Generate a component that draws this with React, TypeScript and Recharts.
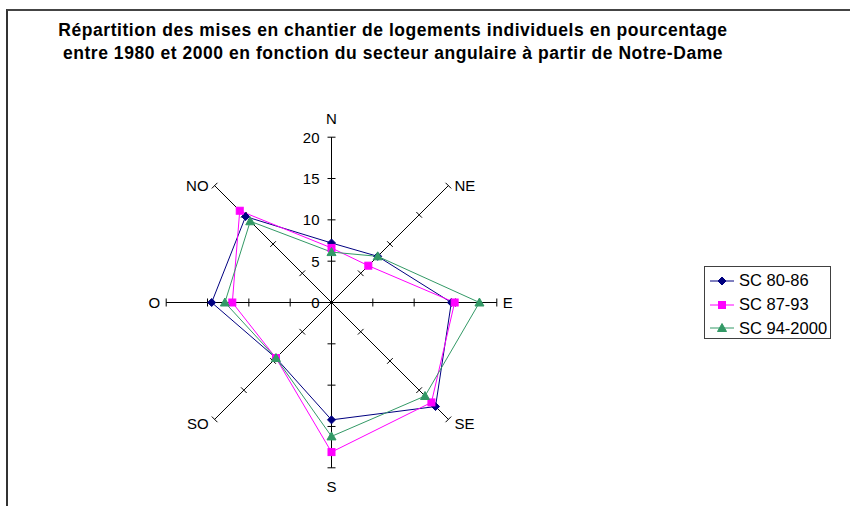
import React from "react";
import {
  RadarChart,
  Radar,
  PolarAngleAxis,
  PolarRadiusAxis,
  Legend,
} from "recharts";

// values (percentages per angular sector)
const SECTORS = ["N", "NE", "E", "SE", "S", "SO", "O", "NO"];
const SC_80_86 = [7.2, 7.9, 14.5, 17.8, 14.2, 9.5, 14.5, 14.7];
const SC_87_93 = [6.6, 6.3, 14.9, 17.1, 18.1, 9.5, 12.0, 15.7];
const SC_94_2000 = [6.1, 7.9, 17.9, 16.0, 16.2, 9.5, 12.9, 13.9];
const RADIUS_TICKS = [0, 5, 10, 15, 20];
const AXIS_ANGLES = [90, 45, 0, -45, -90, -135, 180, 135];
const TITLE_LINES = [
  "Répartition des mises en chantier de logements individuels en pourcentage",
  "entre 1980 et 2000 en fonction du secteur angulaire à partir de Notre-Dame",
];

const SERIES = [
  { key: "a", name: "SC 80-86", values: SC_80_86, color: "#000080", marker: "diamond" },
  { key: "b", name: "SC 87-93", values: SC_87_93, color: "#FF00FF", marker: "square" },
  { key: "c", name: "SC 94-2000", values: SC_94_2000, color: "#339966", marker: "triangle" },
];

const data = SECTORS.map((sector, i) => {
  const row: any = { sector };
  SERIES.forEach(s => (row[s.key] = s.values[i]));
  return row;
});

const CX = 331.5;
const CY = 302.5;
const R = 165.3;
const FONT = "Arial, 'Liberation Sans', sans-serif";

function Marker({ type, x, y, color }: { type: string; x: number; y: number; color: string }) {
  if (type === "diamond") {
    return <polygon points={`${x},${y - 4} ${x + 4},${y} ${x},${y + 4} ${x - 4},${y}`} fill={color} stroke={color} />;
  }
  if (type === "square") {
    return <rect x={x - 3.5} y={y - 3.5} width={7} height={7} fill={color} stroke={color} />;
  }
  return <polygon points={`${x},${y - 4.5} ${x + 4.5},${y + 3.5} ${x - 4.5},${y + 3.5}`} fill={color} stroke={color} />;
}

function RadiusTick(props: any) {
  const { x, y, payload, axisAngle, showLabel } = props;
  const a = (axisAngle * Math.PI) / 180;
  const sx = Math.sin(a) * 4;
  const sy = Math.cos(a) * 4;
  return (
    <g>
      {payload.value > 0 && (
        <line x1={x - sx} y1={y - sy} x2={x + sx} y2={y + sy} stroke="#000" strokeWidth={1} />
      )}
      {showLabel && (
        <text x={x - 12} y={y} textAnchor="end" dominantBaseline="central" fontSize={15} fontFamily={FONT} fill="#000">
          {payload.value}
        </text>
      )}
    </g>
  );
}

function SectorLabel(props: any) {
  const { payload } = props;
  const a = (payload.coordinate * Math.PI) / 180;
  const cos = Math.cos(a);
  const sin = Math.sin(a);
  const ex = CX + R * cos;
  const ey = CY - R * sin;
  let anchor = "middle";
  let x = ex;
  let y = ey;
  if (cos > 0.1) {
    anchor = "start";
    x = ex + 6;
  } else if (cos < -0.1) {
    anchor = "end";
    x = ex - 6;
  }
  if (sin > 0.9) y = ey - 19;
  else if (sin < -0.9) y = ey + 19;
  else if (sin < -0.1) y = ey + 4;
  return (
    <text x={x} y={y} textAnchor={anchor} dominantBaseline="central" fontSize={15} fontFamily={FONT} fill="#000">
      {payload.value}
    </text>
  );
}

function LegendBox({ payload }: any) {
  return (
    <div style={{ border: "1px solid #404040", background: "#fff", boxSizing: "border-box", width: 127, height: 73, paddingTop: 2 }}>
      {(payload || []).map((p: any) => {
        const s = SERIES.find(x => x.name === p.value)!;
        return (
          <div key={p.value} style={{ display: "flex", alignItems: "center", height: 23.8 }}>
            <svg width={34} height={12} style={{ flex: "none" }}>
              <line x1={5} y1={6} x2={29} y2={6} stroke={s.color} strokeWidth={1} />
              <Marker type={s.marker} x={17} y={6} color={s.color} />
            </svg>
            <span style={{ fontFamily: FONT, fontSize: 16.5, color: "#000", whiteSpace: "nowrap" }}>{p.value}</span>
          </div>
        );
      })}
    </div>
  );
}

export default function App() {
  return (
    <div style={{ position: "relative", width: 850, height: 506, overflow: "hidden", background: "#fff" }}>
      <style>{"body{margin:0}"}</style>
      <div
        style={{
          position: "absolute",
          left: 6,
          top: 9,
          width: 844,
          height: 497,
          borderLeft: "2px solid #333",
          borderTop: "2px solid #444",
        }}
      />
      <div
        style={{
          position: "absolute",
          left: 0,
          top: 19,
          width: 786,
          textAlign: "center",
          fontFamily: FONT,
          fontWeight: "bold",
          fontSize: 17.5,
          letterSpacing: 0.55,
          lineHeight: "22.6px",
          color: "#000",
          whiteSpace: "nowrap",
        }}
      >
        {TITLE_LINES.map(t => (
          <div key={t}>{t}</div>
        ))}
      </div>
      <div style={{ position: "absolute", left: 0, top: 0 }}>
        <RadarChart width={850} height={506} data={data} cx={CX} cy={CY} outerRadius={R} startAngle={90} endAngle={-270}>
          <PolarAngleAxis dataKey="sector" axisLine={false} tickLine={false} tick={<SectorLabel />} />
          {AXIS_ANGLES.map((angle, i) => (
            <PolarRadiusAxis
              key={angle}
              radiusAxisId={i}
              angle={angle}
              type="number"
              domain={[0, 20]}
              allowDataOverflow
              tickCount={5}
              ticks={RADIUS_TICKS as any}
              axisLine={{ stroke: "#000", strokeWidth: 1 }}
              tick={(p: any) => <RadiusTick {...p} axisAngle={angle} showLabel={i === 0} />}
            />
          ))}
          {SERIES.map(s => (
            <Radar
              key={s.key}
              dataKey={s.key}
              name={s.name}
              stroke={s.color}
              strokeWidth={1}
              fill="none"
              fillOpacity={0}
              isAnimationActive={false}
              dot={(p: any) => <Marker key={`${s.key}-${p.index}`} type={s.marker} x={p.cx} y={p.cy} color={s.color} />}
            />
          ))}
          <Legend
            content={<LegendBox />}
            wrapperStyle={{ position: "absolute", left: 704, top: 266, width: 127, height: 73 }}
          />
        </RadarChart>
      </div>
    </div>
  );
}
